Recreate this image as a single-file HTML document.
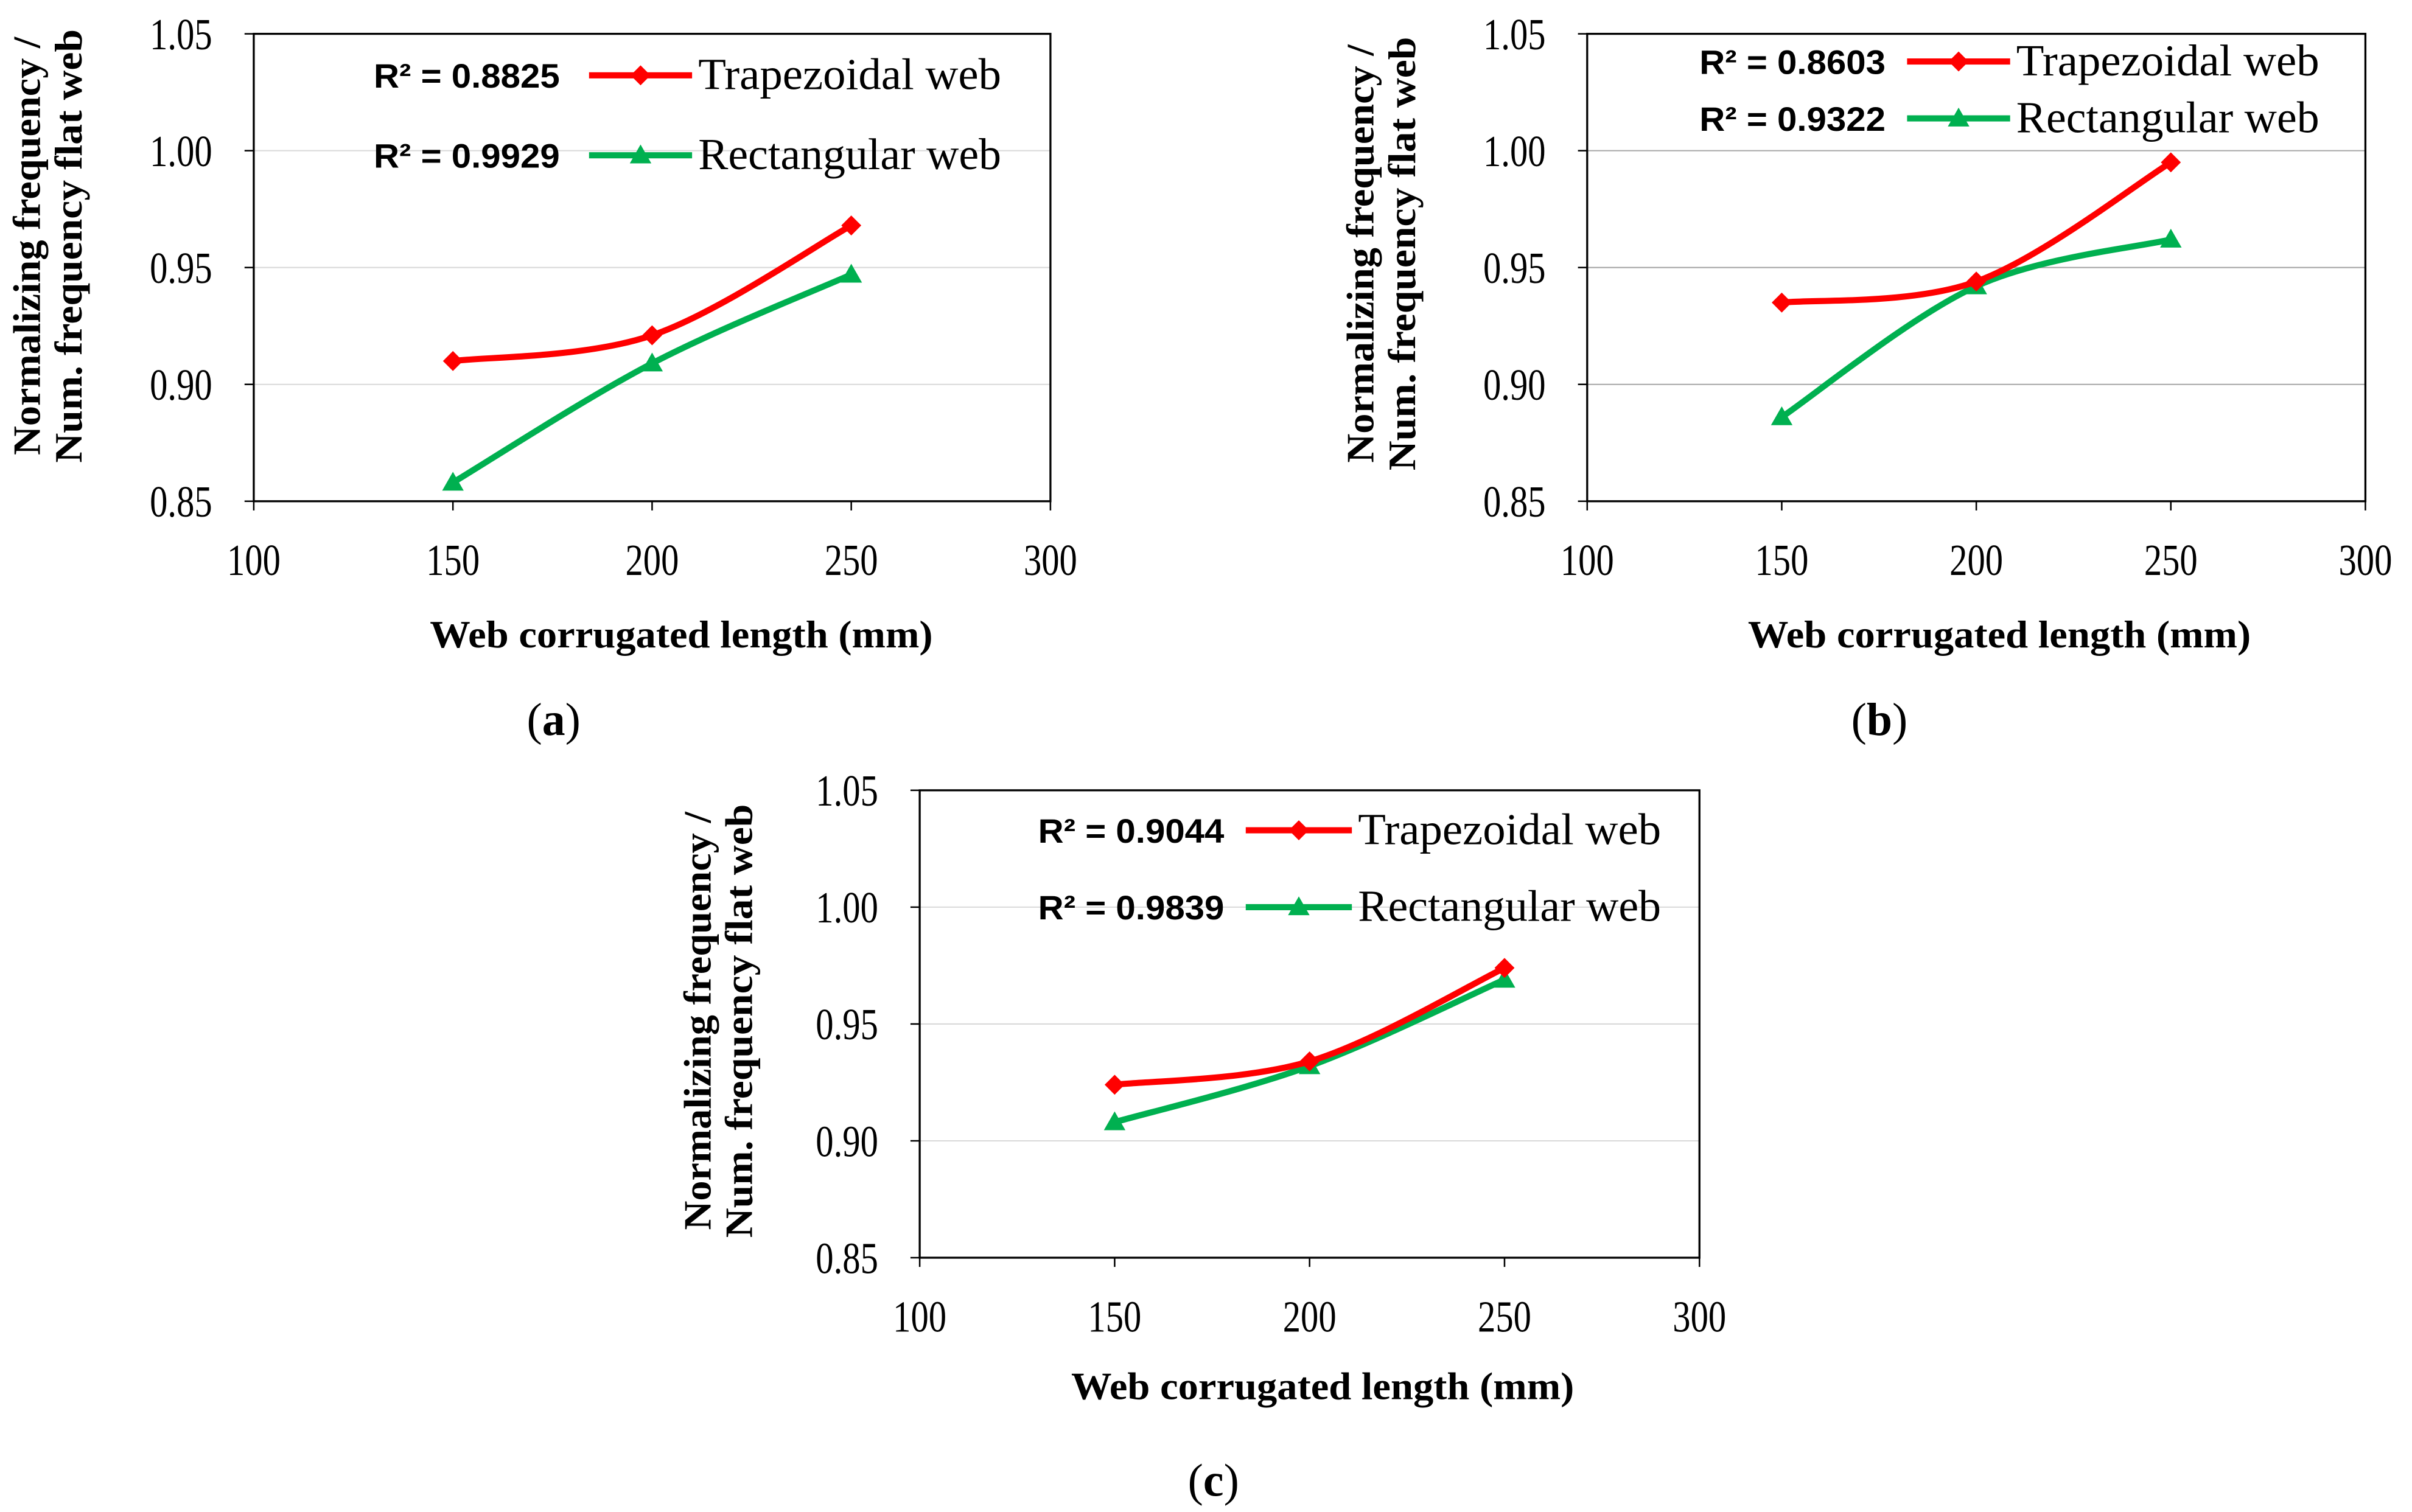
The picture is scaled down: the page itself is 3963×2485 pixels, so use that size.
<!DOCTYPE html>
<html><head><meta charset="utf-8"><style>
html,body{margin:0;padding:0;background:#fff;}
svg{display:block;}
.tick{font-family:"Liberation Serif",serif;font-size:29px;fill:#000;}
.ttl{font-family:"Liberation Serif",serif;font-size:25px;font-weight:bold;fill:#000;}
.r2{font-family:"Liberation Sans",sans-serif;font-size:22px;font-weight:bold;fill:#000;}
.leg{font-family:"Liberation Serif",serif;font-size:29px;fill:#000;}
.lab{font-family:"Liberation Serif",serif;font-size:30px;fill:#000;}
</style></head><body>
<svg id="chart" width="3963" height="2485" viewBox="0 0 1568.3 983.4" xmlns="http://www.w3.org/2000/svg"></svg>
<script>
const xCategories = [150, 200, 250];
const xTicks = [100, 150, 200, 250, 300];
const yTicks = [0.85, 0.90, 0.95, 1.00, 1.05];
const trapA = [0.910, 0.921, 0.968];
const rectA = [0.858, 0.909, 0.947];
const trapB = [0.935, 0.944, 0.995];
const rectB = [0.886, 0.942, 0.962];
const trapC = [0.924, 0.934, 0.974];
const rectC = [0.908, 0.932, 0.969];
const r2A = ["R² = 0.8825", "R² = 0.9929"];
const r2B = ["R² = 0.8603", "R² = 0.9322"];
const r2C = ["R² = 0.9044", "R² = 0.9839"];

const NS = "http://www.w3.org/2000/svg";
const svg = document.getElementById('chart');
function mk(tag, attrs, parent, text) {
  const e = document.createElementNS(NS, tag);
  for (const k in attrs) e.setAttribute(k, attrs[k]);
  if (text !== undefined) e.textContent = text;
  (parent || svg).appendChild(e);
  return e;
}
function smooth(pts) {
  let d = `M${pts[0][0]},${pts[0][1]}`;
  for (let i = 0; i < pts.length - 1; i++) {
    const p0 = pts[Math.max(0, i - 1)], p1 = pts[i], p2 = pts[i + 1], p3 = pts[Math.min(pts.length - 1, i + 2)];
    const c1 = [p1[0] + (p2[0] - p0[0]) / 6, p1[1] + (p2[1] - p0[1]) / 6];
    const c2 = [p2[0] - (p3[0] - p1[0]) / 6, p2[1] - (p3[1] - p1[1]) / 6];
    d += ` C${c1[0]},${c1[1]} ${c2[0]},${c2[1]} ${p2[0]},${p2[1]}`;
  }
  return d;
}
function diamond(g, x, y, c) {
  const s = 6.5;
  const m = mk('polygon', {points: `${x},${y - s} ${x + s},${y} ${x},${y + s} ${x - s},${y}`, fill: c}, g);
  
  
}
function tri(g, x, y, c) {
  const s = 7;
  const m = mk('polygon', {points: `${x},${y - s} ${x + s},${y + s * 0.75} ${x - s},${y + s * 0.75}`, fill: c}, g);
  
  
}
const RED = '#ff0000', GREEN = '#00b050';

function panel(cfg) {
  const g = mk('g', {});
  
  
  const {L, R, T, B} = cfg;
  const xs = v => L + (v - 100) / 200 * (R - L);
  const ys = v => B - (v - 0.85) / 0.20 * (B - T);
  yTicks.forEach(v => {
    if (v > 0.85 && v < 1.05) {
      const gl = mk('line', {x1: L, x2: R, y1: ys(v), y2: ys(v), stroke: cfg.grid, 'stroke-width': 0.8}, g);
      
      
    }
    mk('line', {x1: L - 6, x2: L, y1: ys(v), y2: ys(v), stroke: '#000', 'stroke-width': 1}, g);
    const t = mk('text', {x: L - 27, y: ys(v) + 10, 'text-anchor': 'end', class: 'tick', transform: `translate(${L - 27},0) scale(0.8,1) translate(${-(L - 27)},0)`}, g, v.toFixed(2));
    
    
  });
  xTicks.forEach(v => {
    mk('line', {x1: xs(v), x2: xs(v), y1: B, y2: B + 6, stroke: '#000', 'stroke-width': 1}, g);
    const t = mk('text', {x: xs(v), y: B + 48, 'text-anchor': 'middle', class: 'tick', transform: `translate(${xs(v)},0) scale(0.8,1) translate(${-xs(v)},0)`}, g, String(v));
    
    
  });
  const fr = mk('rect', {x: L, y: T, width: R - L, height: B - T, fill: 'none', stroke: '#000', 'stroke-width': 1.3}, g);
  
  
  [[cfg.rect, GREEN, tri, 'rectangular-web-line'], [cfg.trap, RED, diamond, 'trapezoidal-web-line']].forEach(([vals, c, mf, nm]) => {
    const pts = xCategories.map((x, i) => [xs(x), ys(vals[i])]);
    const p = mk('path', {d: smooth(pts), fill: 'none', stroke: c, 'stroke-width': 4}, g);
    
    
    pts.forEach(q => mf(g, q[0], q[1], c));
  });
  const lg = cfg.leg;
  [[cfg.r2[0], 'Trapezoidal web', RED, diamond, lg.y1], [cfg.r2[1], 'Rectangular web', GREEN, tri, lg.y2]].forEach(([r, name, c, mf, y]) => {
    const rt = mk('text', {x: lg.rx, y: y + 8, class: 'r2', textLength: 121, lengthAdjust: 'spacingAndGlyphs'}, g, r);
    
    
    mk('line', {x1: lg.lx1, x2: lg.lx2, y1: y, y2: y, stroke: c, 'stroke-width': 4}, g);
    mf(g, (lg.lx1 + lg.lx2) / 2, y, c);
    const lt = mk('text', {x: lg.lx2 + 4, y: y + 9, class: 'leg', textLength: 197, lengthAdjust: 'spacingAndGlyphs'}, g, name);
    
    
  });
  const yt = mk('text', {transform: `translate(${cfg.ytx},${cfg.yty}) rotate(-90)`, 'text-anchor': 'middle', class: 'ttl'}, g);
  
  
  mk('tspan', {x: 0, y: 0, textLength: 272, lengthAdjust: 'spacingAndGlyphs'}, yt, 'Normalizing frequency /');
  mk('tspan', {x: 0, y: 27, textLength: 282, lengthAdjust: 'spacingAndGlyphs'}, yt, 'Num. frequency flat web');
  const xt = mk('text', {x: cfg.xtx, y: cfg.xty, 'text-anchor': 'middle', class: 'ttl', textLength: 327, lengthAdjust: 'spacingAndGlyphs'}, g, 'Web corrugated length (mm)');
  
  
  const lb = mk('text', {x: cfg.lbx, y: cfg.lby, 'text-anchor': 'middle', class: 'lab'}, g);
  
  
  mk('tspan', {}, lb, '(');
  mk('tspan', {'font-weight': 'bold'}, lb, cfg.id);
  mk('tspan', {}, lb, ')');
}

panel({id: 'a', L: 165, R: 683, T: 22, B: 326, trap: trapA, rect: rectA, r2: r2A, grid: '#d9d9d9',
  leg: {rx: 243, lx1: 383, lx2: 450, y1: 49, y2: 101}, ytx: 26, yty: 160, xtx: 443, xty: 421, lbx: 360, lby: 478});
panel({id: 'b', L: 1032, R: 1538, T: 22, B: 326, trap: trapB, rect: rectB, r2: r2B, grid: '#a6a6a6',
  leg: {rx: 1105, lx1: 1240, lx2: 1307, y1: 40, y2: 77}, ytx: 893, yty: 165, xtx: 1300, xty: 421, lbx: 1222, lby: 478});
panel({id: 'c', L: 598, R: 1105, T: 514, B: 818, trap: trapC, rect: rectC, r2: r2C, grid: '#d9d9d9',
  leg: {rx: 675, lx1: 810, lx2: 879, y1: 540, y2: 590}, ytx: 462, yty: 664, xtx: 860, xty: 910, lbx: 789, lby: 973});
</script>
</body></html>
